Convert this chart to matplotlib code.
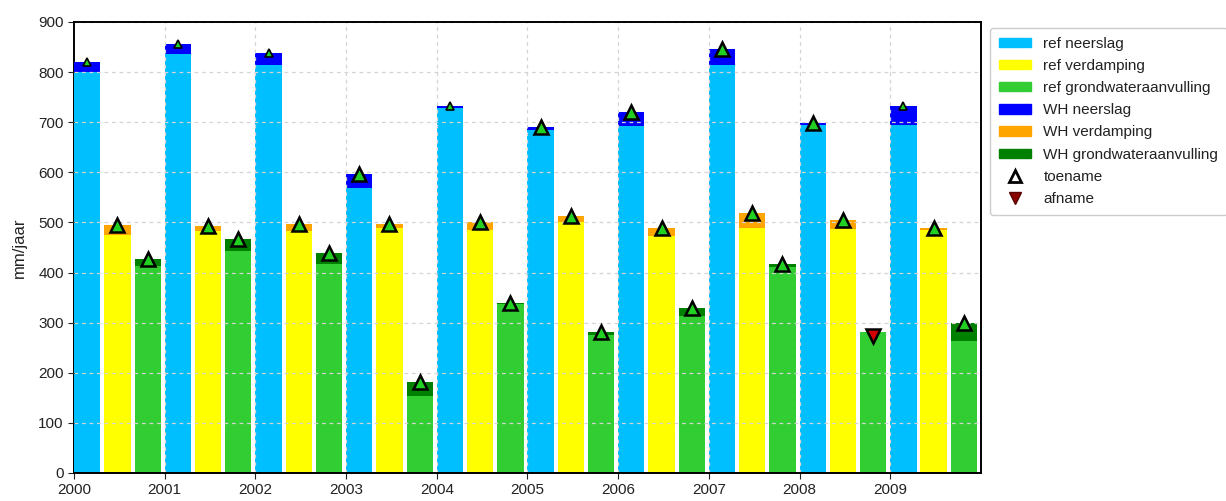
import numpy as np
import matplotlib
matplotlib.use("Agg")
import matplotlib.pyplot as plt
from matplotlib.patches import Patch
from matplotlib.lines import Line2D

plt.rcParams['font.family'] = ['Liberation Sans', 'DejaVu Sans']

# Jaren en waterbalanstermen (mm/jaar)
jaren = [2000, 2001, 2002, 2003, 2004, 2005, 2006, 2007, 2008, 2009]

neerslag_ref = [800, 836, 814, 568, 728, 684, 692, 815, 694, 695]
neerslag_wh = [820, 857, 838, 596, 733, 691, 720, 846, 699, 733]

verdamping_ref = [474, 482, 482, 488, 485, 500, 473, 489, 487, 485]
verdamping_wh = [495, 493, 497, 496, 500, 513, 488, 519, 505, 488]

grondwater_ref = [414, 444, 417, 154, 337, 276, 314, 411, 281, 264]
grondwater_wh = [427, 466, 439, 181, 340, 282, 329, 418, 274, 300]

# jaren waarin de neerslagmarkering klein wordt weergegeven
neerslag_klein = [True, True, True, False, True, False, False, False, False, True]
geen_klein = [False] * len(jaren)

termen = [
    ("neerslag", neerslag_ref, neerslag_wh, "#00bfff", "#0000ff", neerslag_klein),
    ("verdamping", verdamping_ref, verdamping_wh, "#ffff00", "#ffa500", geen_klein),
    ("grondwateraanvulling", grondwater_ref, grondwater_wh, "#32cd32", "#008000", geen_klein),
]

fig = plt.figure(figsize=(12.26, 5.01), dpi=100)
ax = fig.add_axes([0.0604, 0.0559, 0.7397, 0.9002])

x0 = np.array(jaren, dtype=float)
breedte = 0.29

for i, (naam, ref, wh, kleur_ref, kleur_wh, klein) in enumerate(termen):
    xs = x0 + i / 3.0
    ax.bar(xs, wh, width=breedte, align="edge", color=kleur_wh, zorder=3, linewidth=0)
    ax.bar(xs, ref, width=breedte, align="edge", color=kleur_ref, zorder=3.1, linewidth=0)
    for x, r, w, k in zip(xs + breedte / 2, ref, wh, klein):
        if w >= r:
            ax.plot(x, w, marker="^", ms=5.5 if k else 10, mfc="#22d022", mec="black",
                    mew=1.2 if k else 1.8, linestyle="none", zorder=5)
        else:
            ax.plot(x, w, marker="v", ms=10, mfc="#d40000", mec="black",
                    mew=1.8, linestyle="none", zorder=5)

ax.set_xlim(2000, 2010)
ax.set_ylim(0, 900)
ax.set_xticks(jaren)
ax.set_xticklabels([str(j) for j in jaren])
ax.set_yticks(np.arange(0, 901, 100))
ax.tick_params(axis="both", labelsize=11, colors="#222222", direction="out", length=4)
ax.set_ylabel("mm/jaar", fontsize=12, color="#222222", labelpad=8)

ax.grid(True, linestyle=(0, (3, 3)), color="#d4d4d4", linewidth=0.9)
ax.xaxis.set_zorder(4)
ax.yaxis.set_zorder(4)
# de verticale hulplijn op de linkeras valt samen met de as zelf
ax.get_xgridlines()[0].set_visible(False)
for naam, s in ax.spines.items():
    s.set_color("black")
    s.set_linewidth(1.4)
    if naam != "left":
        s.set_zorder(4.5)

handles = [
    Patch(color="#00bfff", label="ref neerslag"),
    Patch(color="#ffff00", label="ref verdamping"),
    Patch(color="#32cd32", label="ref grondwateraanvulling"),
    Patch(color="#0000ff", label="WH neerslag"),
    Patch(color="#ffa500", label="WH verdamping"),
    Patch(color="#008000", label="WH grondwateraanvulling"),
    Line2D([], [], marker="^", linestyle="none", ms=8, mfc="white", mec="black", mew=2,
           label="toename"),
    Line2D([], [], marker="v", linestyle="none", ms=8, mfc="#8b0000", mec="#5a0000", mew=1,
           label="afname"),
]
leg = ax.legend(handles=handles, loc="upper left", bbox_to_anchor=(1.01, 0.987),
                borderaxespad=0, fontsize=11, labelspacing=0.53, borderpad=0.6,
                handlelength=2.1, handleheight=0.55, handletextpad=0.8, frameon=True,
                framealpha=1, edgecolor="#cccccc")
for t in leg.get_texts():
    t.set_color("#222222")

fig.savefig("out.png", dpi=100)
